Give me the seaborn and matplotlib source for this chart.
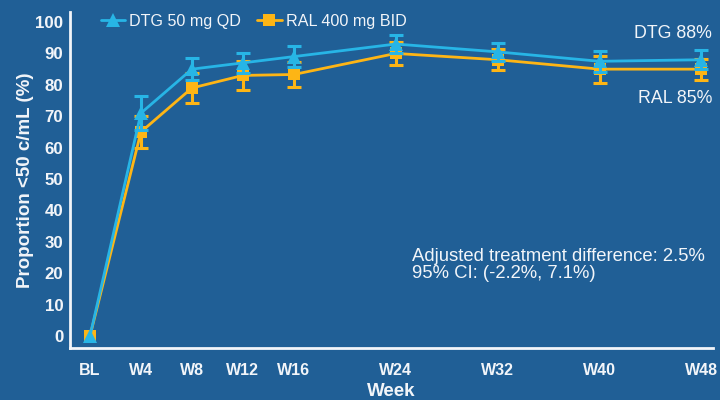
import numpy as np
import pandas as pd
import matplotlib
matplotlib.use("Agg")
import matplotlib.pyplot as plt
import seaborn as sns

# Visit schedule (weeks) and labels
weeks = [0, 4, 8, 12, 16, 24, 32, 40, 48]
week_labels = ["BL", "W4", "W8", "W12", "W16", "W24", "W32", "W40", "W48"]

# Proportion with HIV-1 RNA <50 c/mL (%) and 95% CI half-widths
dtg_pct = [0, 71, 85, 87, 89, 93, 90.5, 87.5, 88]
dtg_err = [0, 5.5, 3.5, 3.3, 3.3, 3.0, 2.8, 3.3, 3.0]
ral_pct = [0, 65, 79, 83, 83.3, 90, 88, 85, 85]
ral_err = [0, 5.0, 4.7, 4.5, 4.0, 3.6, 3.3, 4.3, 3.3]

dtg_name = "DTG 50 mg QD"
ral_name = "RAL 400 mg BID"

bg = "#205F96"
fg = "#F2F5F9"
dtg_col = "#27B5E6"
ral_col = "#FDB515"

sns.set_theme(style="white")
plt.rcParams["font.family"] = ["Liberation Sans", "DejaVu Sans"]

df = pd.DataFrame({
    "week": weeks * 2,
    "pct": dtg_pct + ral_pct,
    "err": dtg_err + ral_err,
    "arm": [dtg_name] * len(weeks) + [ral_name] * len(weeks),
})

fig = plt.figure(figsize=(7.2, 4.0), dpi=100, facecolor=bg)
ax = fig.add_axes([0.0972, 0.13, 0.893, 0.84])
ax.set_facecolor(bg)

palette = {dtg_name: dtg_col, ral_name: ral_col}

# Error bars first (skip baseline), then lines on top
for arm, z in [(ral_name, 2), (dtg_name, 4)]:
    sub = df[(df["arm"] == arm) & (df["week"] > 0)]
    ax.errorbar(sub["week"], sub["pct"], yerr=sub["err"], fmt="none",
                ecolor=palette[arm], elinewidth=2.2, capsize=5, capthick=2.2,
                zorder=z)

sns.lineplot(data=df[df["arm"] == ral_name], x="week", y="pct", ax=ax,
             color=ral_col, marker="s", markersize=9, markeredgewidth=0,
             linewidth=2.0, label=ral_name, zorder=3)
sns.lineplot(data=df[df["arm"] == dtg_name], x="week", y="pct", ax=ax,
             color=dtg_col, marker="^", markersize=10, markeredgewidth=0,
             linewidth=2.0, label=dtg_name, zorder=5)

ax.set_xlim(-1.57, 48.9)
ax.set_ylim(-3.8, 103.2)
ax.set_xticks(weeks)
ax.set_xticklabels(week_labels)
ax.set_yticks(np.arange(0, 101, 10))

for side in ["top", "right"]:
    ax.spines[side].set_visible(False)
for side in ["left", "bottom"]:
    ax.spines[side].set_color(fg)
    ax.spines[side].set_linewidth(2)

ax.tick_params(axis="both", colors=fg, direction="out", length=4, width=2)
ax.tick_params(axis="x", labelsize=11.5, pad=6.5)
ax.tick_params(axis="y", labelsize=12.2, pad=0.8)
for lbl in ax.get_xticklabels() + ax.get_yticklabels():
    lbl.set_fontweight("bold")
    lbl.set_color(fg)

ax.set_xlabel("Week", color=fg, fontsize=13.5, fontweight="bold", labelpad=4)
ax.set_ylabel("Proportion <50 c/mL (%)", color=fg, fontsize=13.5,
              fontweight="bold", labelpad=1)

handles, labels = ax.get_legend_handles_labels()
order = [labels.index(dtg_name), labels.index(ral_name)]
leg = ax.legend([handles[i] for i in order], [labels[i] for i in order],
                loc="upper left", bbox_to_anchor=(0.026, 1.037), ncol=2,
                frameon=False, fontsize=11.6, handlelength=1.5,
                handletextpad=0.25, columnspacing=1.0)
for t in leg.get_texts():
    t.set_color(fg)

ax.text(48.85, 96.5, "DTG 88%", color=fg, fontsize=12.8,
        ha="right", va="center")
ax.text(48.85, 75.8, "RAL 85%", color=fg, fontsize=12.8,
        ha="right", va="center")
ax.text(25.25, 22.6, "Adjusted treatment difference: 2.5%\n95% CI: (-2.2%, 7.1%)",
        color=fg, fontsize=13.3, ha="left", va="center", linespacing=0.95)

fig.savefig("out.png", dpi=100, facecolor=bg)
